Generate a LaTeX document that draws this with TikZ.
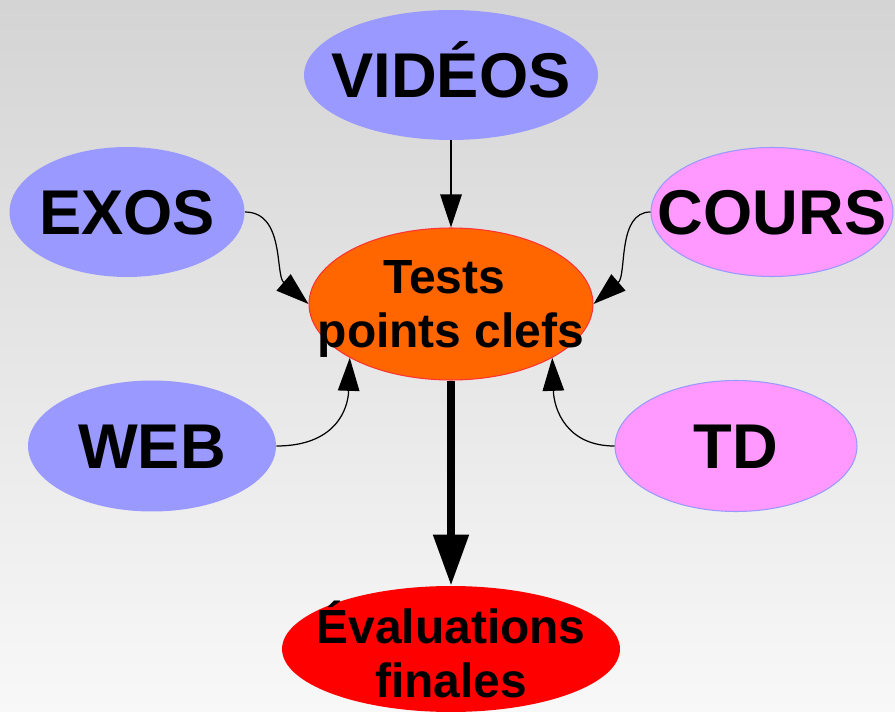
\documentclass[tikz,border=0pt]{standalone}
\usepackage{fontspec}
\setmainfont{Liberation Sans}
\usetikzlibrary{arrows.meta,shapes.geometric}
\definecolor{lblue}{RGB}{153,153,255}
\definecolor{lpink}{RGB}{255,153,255}
\definecolor{lorange}{RGB}{255,102,0}
\definecolor{lred}{RGB}{255,0,0}
\definecolor{bgtop}{RGB}{212,212,212}
\definecolor{bgbot}{RGB}{248,248,248}

\begin{document}
\begin{tikzpicture}
    [
    x=0.02cm, y=-0.02cm,
    box/.style={ellipse,inner sep=-4cm,font=\bfseries\fontsize{36}{40}\selectfont,text height=25.7pt,text depth=0pt},
    bluebox/.style={box,fill=lblue},
    pinkbox/.style={box,fill=lpink,draw=lblue,line width=0.6pt},
    twoline/.style={ellipse,inner sep=-4cm,align=center,font=\bfseries\fontsize{27.3}{30.5}\selectfont,text depth=0pt},
    edge/.style={line width=0.7pt,-{Triangle[length=0.66cm,width=0.43cm]}},
    bigedge/.style={line width=4.6pt,-{Triangle[length=1.02cm,width=0.68cm]}}
    ]
\shade[top color=bgtop,bottom color=bgbot] (0,0) rectangle (895,712);
\useasboundingbox (0,0) rectangle (895,712);

\node[bluebox,minimum width=5.88cm,minimum height=2.6cm] (videos) at (451,75) {VIDÉOS};
\node[bluebox,minimum width=4.7cm,minimum height=2.6cm] (exos) at (127,212) {EXOS};
\node[pinkbox,minimum width=4.84cm,minimum height=2.58cm] (cours) at (772,212) {COURS};
\node[twoline,fill=lorange,draw=lred!80,line width=0.6pt,minimum width=5.68cm,minimum height=3.04cm] (tests) at (451,304) {Tests\hphantom{\ }\\points clefs};
\node[bluebox,minimum width=4.96cm,minimum height=2.62cm] (web) at (152,446) {WEB};
\node[pinkbox,minimum width=4.84cm,minimum height=2.62cm] (td) at (736,446) {TD};
\node[twoline,fill=lred,minimum width=6.76cm,minimum height=2.52cm] (evals) at (451,649) {Évaluations\\finales};

\draw[edge] (videos) -- (tests);
\draw[edge] (exos.east) .. controls (285,212) and (275,275) .. (tests.west);
\draw[edge] (cours.west) .. controls (617,212) and (627,275) .. (tests.east);
\draw[edge] (web.east) .. controls (335,446) and (348,410) .. (tests.208);
\draw[edge] (td.west) .. controls (567,446) and (554,410) .. (tests.332);
\draw[bigedge] (tests) -- (evals);
\end{tikzpicture}
\end{document}
